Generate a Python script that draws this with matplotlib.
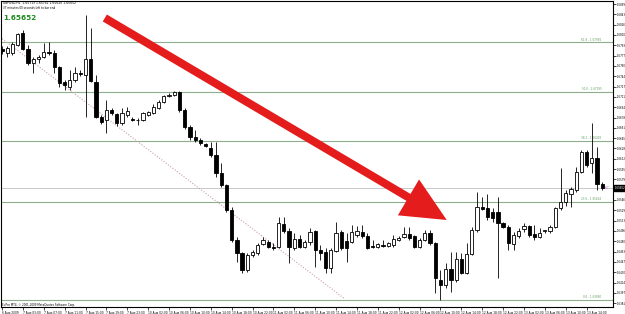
import numpy as np
import matplotlib
matplotlib.use('Agg')
from matplotlib import pyplot as plt

# GBPUSD H1, 6 Aug 23:00 .. 13 Aug 17:00 (116 bars)
opens = [1.67876, 1.67812, 1.67812, 1.67940, 1.68132, 1.67876, 1.67652, 1.67716, 1.67748, 1.67828,
         1.67812, 1.67588, 1.67348, 1.67268, 1.67380, 1.67492, 1.67460, 1.67716, 1.67348, 1.66788,
         1.66740, 1.66900, 1.66836, 1.66692, 1.66820, 1.66756, 1.66740, 1.66740, 1.66820, 1.66852,
         1.66932, 1.67028, 1.67124, 1.67140, 1.67188, 1.66900, 1.66628, 1.66468, 1.66420, 1.66356,
         1.66292, 1.66180, 1.65892, 1.65700, 1.65300, 1.64820, 1.64612, 1.64340, 1.64580, 1.64612,
         1.64756, 1.64788, 1.64708, 1.64708, 1.65076, 1.64964, 1.64692, 1.64836, 1.64708, 1.64788,
         1.64964, 1.64660, 1.64628, 1.64372, 1.64644, 1.64948, 1.64804, 1.64788, 1.64900, 1.64948,
         1.64884, 1.64724, 1.64708, 1.64740, 1.64724, 1.64740, 1.64820, 1.64868, 1.64916, 1.64884,
         1.64708, 1.64820, 1.64932, 1.64772, 1.64180, 1.64100, 1.64356, 1.64180, 1.64516, 1.64292,
         1.64596, 1.64980, 1.65348, 1.65332, 1.65268, 1.65268, 1.65092, 1.65028, 1.64756, 1.64884,
         1.64996, 1.65044, 1.64916, 1.64868, 1.64964, 1.64964, 1.65028, 1.65332, 1.65428, 1.65556,
         1.65620, 1.65908, 1.66228, 1.66052, 1.66132, 1.65713]
highs = [1.67924, 1.67924, 1.67988, 1.68132, 1.68180, 1.67940, 1.67748, 1.67780, 1.67972, 1.67988,
         1.67860, 1.67604, 1.67380, 1.67540, 1.67588, 1.67540, 1.68420, 1.68212, 1.67460, 1.66820,
         1.67060, 1.66932, 1.66852, 1.66932, 1.66948, 1.66788, 1.66772, 1.66868, 1.66884, 1.66996,
         1.67060, 1.67140, 1.67172, 1.67204, 1.67204, 1.66932, 1.66660, 1.66580, 1.66452, 1.66372,
         1.66388, 1.66388, 1.66052, 1.65716, 1.65348, 1.64868, 1.64628, 1.64612, 1.64660, 1.64772,
         1.64868, 1.64820, 1.64772, 1.65188, 1.65188, 1.65012, 1.64932, 1.64900, 1.64820, 1.65012,
         1.64980, 1.64740, 1.64692, 1.64692, 1.65108, 1.64980, 1.64932, 1.65060, 1.65044, 1.65060,
         1.64932, 1.64820, 1.64772, 1.64820, 1.64788, 1.64900, 1.64884, 1.65028, 1.65028, 1.64900,
         1.64852, 1.64980, 1.64980, 1.64790, 1.64340, 1.64452, 1.64628, 1.64628, 1.64612, 1.64772,
         1.65028, 1.65588, 1.65508, 1.65556, 1.65332, 1.65508, 1.65108, 1.65060, 1.64948, 1.65012,
         1.65092, 1.65060, 1.65060, 1.65012, 1.64980, 1.65060, 1.65348, 1.65972, 1.65620, 1.65668,
         1.65988, 1.66260, 1.66260, 1.66692, 1.66308, 1.65741]
lows = [1.67796, 1.67748, 1.67780, 1.67924, 1.67860, 1.67620, 1.67492, 1.67652, 1.67732, 1.67780,
        1.67492, 1.67268, 1.67220, 1.67220, 1.67348, 1.67444, 1.66788, 1.67348, 1.66772, 1.66676,
        1.66532, 1.66820, 1.66644, 1.66660, 1.66788, 1.66724, 1.66660, 1.66724, 1.66804, 1.66836,
        1.66916, 1.67012, 1.67108, 1.67124, 1.66868, 1.66596, 1.66420, 1.66388, 1.66340, 1.66308,
        1.66148, 1.65828, 1.65668, 1.65268, 1.64788, 1.64468, 1.64292, 1.64308, 1.64548, 1.64580,
        1.64740, 1.64692, 1.64660, 1.64692, 1.64932, 1.64452, 1.64660, 1.64692, 1.64692, 1.64740,
        1.64388, 1.64500, 1.64292, 1.64292, 1.64628, 1.64660, 1.64468, 1.64772, 1.64868, 1.64852,
        1.64680, 1.64692, 1.64692, 1.64708, 1.64708, 1.64708, 1.64804, 1.64852, 1.64820, 1.64692,
        1.64692, 1.64804, 1.64740, 1.63972, 1.63860, 1.64052, 1.63988, 1.64148, 1.64276, 1.64276,
        1.64580, 1.64948, 1.65300, 1.65140, 1.65108, 1.64212, 1.65012, 1.64660, 1.64660, 1.64852,
        1.64948, 1.64868, 1.64820, 1.64852, 1.64932, 1.64932, 1.65012, 1.65300, 1.65364, 1.65348,
        1.65588, 1.65892, 1.65988, 1.65892, 1.65620, 1.65620]
closes = [1.67844, 1.67892, 1.67956, 1.68116, 1.67876, 1.67652, 1.67716, 1.67748, 1.67828, 1.67820,
          1.67588, 1.67332, 1.67300, 1.67380, 1.67492, 1.67476, 1.67716, 1.67364, 1.66788, 1.66708,
          1.66900, 1.66852, 1.66692, 1.66852, 1.66884, 1.66740, 1.66735, 1.66852, 1.66868, 1.66948,
          1.67028, 1.67124, 1.67140, 1.67188, 1.66900, 1.66628, 1.66468, 1.66420, 1.66372, 1.66324,
          1.66180, 1.65892, 1.65700, 1.65300, 1.64820, 1.64612, 1.64340, 1.64580, 1.64628, 1.64740,
          1.64820, 1.64708, 1.64700, 1.65092, 1.64964, 1.64708, 1.64836, 1.64708, 1.64788, 1.64948,
          1.64660, 1.64612, 1.64372, 1.64660, 1.64932, 1.64692, 1.64692, 1.64948, 1.64964, 1.64884,
          1.64692, 1.64716, 1.64756, 1.64732, 1.64772, 1.64836, 1.64852, 1.64916, 1.64852, 1.64708,
          1.64820, 1.64932, 1.64772, 1.64212, 1.64100, 1.64356, 1.64180, 1.64516, 1.64292, 1.64596,
          1.64980, 1.65348, 1.65316, 1.65188, 1.65172, 1.65092, 1.65028, 1.64772, 1.64900, 1.64964,
          1.65044, 1.64900, 1.64868, 1.64932, 1.64972, 1.65028, 1.65332, 1.65428, 1.65572, 1.65636,
          1.65908, 1.66228, 1.66020, 1.66132, 1.65716, 1.65652]

time_labels = ['6 Aug 2009', '7 Aug 03:00', '7 Aug 07:00', '7 Aug 11:00', '7 Aug 15:00',
               '7 Aug 19:00', '7 Aug 23:00', '10 Aug 02:00', '10 Aug 06:00', '10 Aug 10:00',
               '10 Aug 14:00', '10 Aug 18:00', '10 Aug 22:00', '11 Aug 02:00', '11 Aug 06:00',
               '11 Aug 10:00', '11 Aug 14:00', '11 Aug 18:00', '11 Aug 22:00', '12 Aug 02:00',
               '12 Aug 06:00', '12 Aug 10:00', '12 Aug 14:00', '12 Aug 18:00', '12 Aug 22:00',
               '13 Aug 02:00', '13 Aug 06:00', '13 Aug 10:00', '13 Aug 14:00']
label_bars = [0, 4, 8, 12, 16, 20, 24, 28, 32, 36, 40, 44, 48, 52, 56, 60, 64, 68, 72, 76,
              80, 84, 88, 92, 96, 100, 104, 108, 112]

price_ticks = [1.68595, 1.68430, 1.68265, 1.68100, 1.67935, 1.67770, 1.67605, 1.67440, 1.67275,
               1.67110, 1.66945, 1.66780, 1.66615, 1.66450, 1.66285, 1.66120, 1.65955, 1.65790,
               1.65625, 1.65460, 1.65295, 1.65130, 1.64965, 1.64800, 1.64635, 1.64470, 1.64305,
               1.64140, 1.63975, 1.63810]

fib_names = ['0.0', '23.6', '38.2', '50.0', '61.8']
fib_prices = [1.63860, 1.65434, 1.66408, 1.67195, 1.67982]

trend_x = [-0.4, 65.7]
trend_y = [1.68068, 1.63876]

arrow_from = (19.7, 1.68372)
arrow_to = (85.2, 1.65140)

bid = 1.65652

fig = plt.figure(figsize=(6.25, 3.14), dpi=100)
ax = fig.add_axes([1 / 625, 7 / 314, 612 / 625, 306 / 314])
ax.set_xlim(-0.19, 117.05)
ax.set_ylim(1.63748, 1.68644)

o = np.array(opens)
h = np.array(highs)
l = np.array(lows)
c = np.array(closes)
x = np.arange(len(o))

# fibo levels + bid line
for name, p in zip(fib_names, fib_prices):
    ax.axhline(p, color='#8fae8f', lw=0.8, zorder=1)
    ax.text(114.8, p + 0.00012, f'{name} - {p:.5f}', color='#5f9f5f', fontsize=2.0,
            ha='right', va='bottom', zorder=2)
ax.axhline(bid, color='#c8c8c8', lw=0.7, zorder=1)

ax.plot(trend_x, trend_y, color='#c9a0a0', lw=0.8, ls=(0, (1, 1.5)), zorder=1)

# candles
ax.vlines(x, l, h, color='black', lw=0.6, zorder=3)
up = c >= o
body_lo = np.minimum(o, c)
body_h = np.maximum(np.abs(c - o), 0.00002)
ax.bar(x[up], body_h[up], bottom=body_lo[up], width=0.62, color='white',
       edgecolor='black', lw=0.6, zorder=4)
ax.bar(x[~up], body_h[~up], bottom=body_lo[~up], width=0.62, color='black',
       edgecolor='black', lw=0.6, zorder=4)

ax.annotate('', xy=arrow_to, xytext=arrow_from,
            arrowprops=dict(arrowstyle='simple,tail_width=0.58,head_width=3.0,head_length=3.2',
                            mutation_scale=10, facecolor='#e41c1c', edgecolor='none',
                            shrinkA=0, shrinkB=0), zorder=6)

# axes
ax.yaxis.tick_right()
ax.set_yticks(price_ticks)
ax.set_yticklabels([f'{p:.5f}' for p in price_ticks], fontsize=1.9)
ax.tick_params(axis='y', length=2, width=0.5, pad=1)
ax.set_xticks(label_bars)
ax.set_xticklabels(time_labels, fontsize=2.1, ha='left')
ax.tick_params(axis='x', length=2.5, width=0.5, pad=0.6)
for s in ax.spines.values():
    s.set_linewidth(0.8)

ax.text(1.0025, (bid - 1.63748) / (1.68644 - 1.63748), f'{bid:.5f}', transform=ax.transAxes,
        fontsize=1.9, color='white', va='center', ha='left',
        bbox=dict(boxstyle='square,pad=0.25', fc='black', ec='black'))
ax.text(0.985, (bid - 1.63748) / (1.68644 - 1.63748), '<07', transform=ax.transAxes,
        fontsize=1.9, color='#c060c0', va='center', ha='left')

fig.text(3 / 625, 1 - 3 / 314, 'GBPUSD,H1  1.65713 1.65741 1.65620 1.65652', fontsize=2.2,
         va='center', ha='left')
fig.text(3 / 625, 1 - 8 / 314, '37 minutes 00 seconds left to bar end', fontsize=2.0,
         va='center', ha='left')
fig.text(3 / 625, 1 - 18 / 314, f'{bid:.5f}', fontsize=5.2, fontweight='bold',
         color='#1f8a1f', va='center', ha='left')
fig.text(2 / 625, 9 / 314, 'EuPro MT4, \u00a9 2001-2009 MetaQuotes Software Corp.', fontsize=2.0,
         va='center', ha='left')

fig.savefig('out.png', dpi=100)
